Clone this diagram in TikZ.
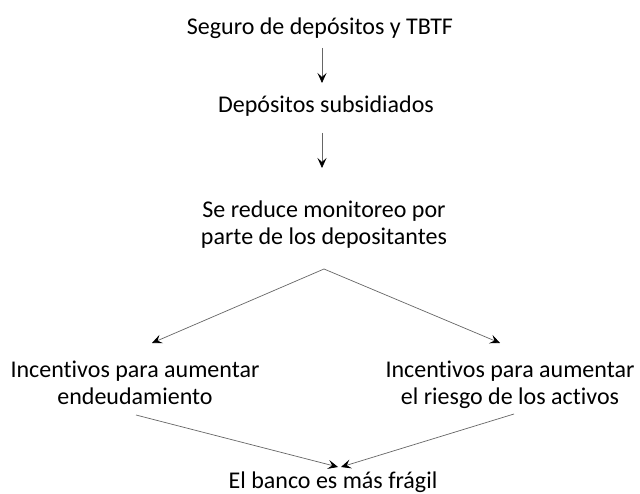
\documentclass[tikz,border=0pt]{standalone}
\usepackage{fontspec}
\setmainfont{Carlito}[Ligatures=NoCommon]
\usetikzlibrary{arrows.meta,calc}
\begin{document}
\begin{tikzpicture}[x=1pt,y=-1pt,
  lbl/.style={inner sep=0pt,align=center,anchor=base,font=\fontsize{24}{27}\selectfont},
  arr/.style={draw=black!60,line width=0.7pt,-{Stealth[length=10pt,width=9pt,inset=4pt,color=black]}}]
\useasboundingbox[fill=white] (0,0) rectangle (640,494);
\node[lbl] (a) at (320,35) {Seguro de depósitos y TBTF};
\node[lbl] (b) at (326,113) {Depósitos subsidiados};
\node[lbl] (c) at (324,245) {Se reduce monitoreo por\\parte de los depositantes};
\node[lbl] (d) at (135,404) {Incentivos para aumentar\\endeudamiento};
\node[lbl] (e) at (510,404) {Incentivos para aumentar\\el riesgo de los activos};
\node[lbl] (f) at (333,488) {El banco es más frágil};
\draw[arr] ($(a.base)+(2,13)$) -- ($(b.base)+(-4,-30)$);
\draw[arr] ($(b.base)+(-4,20)$) -- ($(c.base)+(-2,-77)$);
\draw[arr] ($(c.base)+(0,24)$) -- ($(d.base)+(17,-61)$);
\draw[arr] ($(c.base)+(0,24)$) -- ($(e.base)+(-10,-61)$);
\draw[arr] ($(d.base)+(1,11)$) -- ($(f.base)+(5,-21)$);
\draw[arr] ($(e.base)+(4,10)$) -- ($(f.base)+(8,-21)$);
\end{tikzpicture}
\end{document}
